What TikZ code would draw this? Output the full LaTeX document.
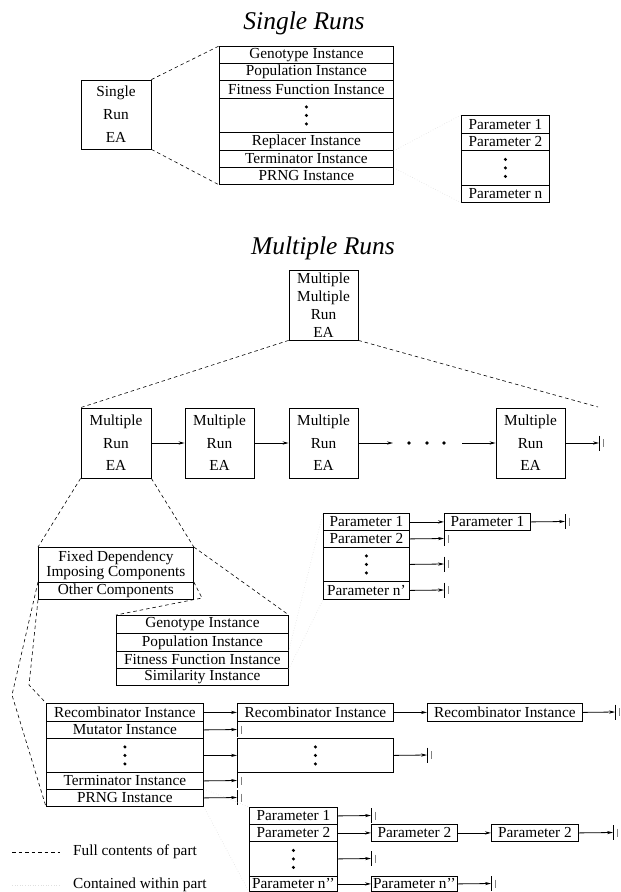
\documentclass[tikz,border=0pt]{standalone}
\usepackage{fontspec}
\setmainfont{Liberation Serif}
\usetikzlibrary{arrows.meta}
\newcommand{\tbar}[1]{%
  \draw[line width=0.9pt] (#1) ++(0,-7.5) -- ++(0,15);
  \draw[gray, line width=0.5pt] (#1) ++(4,-4) -- ++(0,8);}
\newcommand{\vdts}[1]{%
  \fill (#1.center) circle[radius=1.7pt];
  \fill ([yshift=8.5pt]#1.center) circle[radius=1.7pt];
  \fill ([yshift=-8.5pt]#1.center) circle[radius=1.7pt];}
\begin{document}
\begin{tikzpicture}[x=1pt,y=-1pt,
  every node/.style={font=\fontsize{15.3}{18}\selectfont, inner sep=0pt},
  row/.style 2 args={draw, line width=0.8pt, minimum width=#1, minimum height=#2, anchor=north west},
  box/.style={draw, line width=0.8pt, align=center},
  full/.style={dash pattern=on 3.5pt off 3pt, line width=0.6pt},
  within/.style={dotted, gray!25, line width=0.6pt},
  arr/.style={-{Stealth[length=6pt,width=3.2pt]}, line width=0.8pt},
  titl/.style={font=\fontsize{25.5}{30}\selectfont\itshape}]
\useasboundingbox (0,0) rectangle (621,892);

% ---------------- Single runs ----------------
\node[titl] (t1) at (304,23) {Single Runs};
\node[box, minimum width=70, minimum height=69, font=\fontsize{15.3}{23}\selectfont] (sr) at (116,114.5) {Single\\Run\\EA};

\node[row={174}{17}] (gen) at (219,46) {Genotype Instance};
\node[row={174}{17}] (pop) at (219,63) {Population Instance};
\node[row={174}{18}] (fit) at (219,80) {Fitness Function Instance};
\node[row={174}{34}] (sd) at (219,98) {};
\node[row={174}{18}] (rep) at (219,132) {Replacer Instance};
\node[row={174}{17}] (ter) at (219,150) {Terminator Instance};
\node[row={174}{17}] (prng) at (219,167) {PRNG Instance};
\vdts{sd}

\node[row={88}{18}] (ps1) at (461,115) {Parameter 1};
\node[row={88}{17}] (ps2) at (461,133) {Parameter 2};
\node[row={88}{35}] (psd) at (461,150) {};
\node[row={88}{17}] (psn) at (461,185) {Parameter n};
\vdts{psd}

\draw[full] (sr.north east) -- (gen.north west);
\draw[full] (sr.south east) -- (prng.south west);
\draw[within] (rep.south east) -- (ps1.north west);
\draw[within] (ter.south east) -- (psn.south west);

% ---------------- Multiple runs ----------------
\node[titl] (t2) at (323,248) {Multiple Runs};
\node[box, minimum width=69, minimum height=70, font=\fontsize{15.3}{18}\selectfont] (mm) at (323.5,305) {Multiple\\Multiple\\Run\\EA};

\node[box, minimum width=70, minimum height=70, font=\fontsize{15.3}{22.5}\selectfont] (b1) at (116,443) {Multiple\\Run\\EA};
\node[box, minimum width=69, minimum height=70, font=\fontsize{15.3}{22.5}\selectfont] (b2) at (219.5,443) {Multiple\\Run\\EA};
\node[box, minimum width=69, minimum height=70, font=\fontsize{15.3}{22.5}\selectfont] (b3) at (323.5,443) {Multiple\\Run\\EA};
\node[box, minimum width=69, minimum height=70, font=\fontsize{15.3}{22.5}\selectfont] (b4) at (530.5,443) {Multiple\\Run\\EA};

\coordinate (c3) at (393,443);
\coordinate (c4) at (462,443);
\coordinate (e4) at (599,443);
\coordinate (mr) at (598,407);
\draw[arr] (b1.east) -- (b2.west);
\draw[arr] (b2.east) -- (b3.west);
\draw[arr] (b3.east) -- (c3);
\fill (409,443) circle[radius=1.8pt];
\fill (427,443) circle[radius=1.8pt];
\fill (444,443) circle[radius=1.8pt];
\draw[arr] (c4) -- (b4.west);
\draw[arr] (b4.east) -- (e4);
\tbar{e4}

\draw[full] (mm.south west) -- (b1.north west);
\draw[full] (mm.south east) -- (mr);

% Fixed / other
\node[row={155}{35}, align=center, font=\fontsize{15.3}{15}\selectfont] (fix) at (38,547) {Fixed Dependency\\Imposing Components};
\node[row={155}{17}] (oth) at (38,582) {Other Components};
\draw[full] (b1.south west) -- (fix.north west);
\draw[full] (b1.south east) -- (fix.north east);

% Fixed-dependency contents
\node[row={172}{18}] (g2) at (116,615) {Genotype Instance};
\node[row={172}{18}] (p2) at (116,633) {Population Instance};
\node[row={172}{17}] (f2) at (116,651) {Fitness Function Instance};
\node[row={172}{17}] (s2) at (116,668) {Similarity Instance};
\coordinate (ob) at (202,598);
\draw[full] (fix.north east) -- (g2.north east);
\draw[full] (oth.north east) -- (ob) -- (g2.north west);

% Parameters n'
\node[row={86}{17}] (mp1) at (323,513) {Parameter 1};
\node[row={86}{17}] (mp2) at (323,530) {Parameter 2};
\node[row={86}{34}] (mpd) at (323,547) {};
\node[row={86}{18}] (mpn) at (323,581) {Parameter n'};
\vdts{mpd}
\draw[within] (f2.north east) -- (mp1.north west);
\draw[within] (f2.south east) -- (mpn.south west);

\node[row={86}{17}] (mp1b) at (444,513) {Parameter 1};
\coordinate (emp1) at (565,521.5);
\coordinate (emp2) at (444,538.5);
\coordinate (empd) at (444,564);
\coordinate (empn) at (444,590);
\draw[arr] (mp1.east) -- (mp1b.west);
\draw[arr] (mp1b.east) -- (emp1); \tbar{emp1}
\draw[arr] (mp2.east) -- (emp2); \tbar{emp2}
\draw[arr] (mpd.east) -- (empd); \tbar{empd}
\draw[arr] (mpn.east) -- (empn); \tbar{empn}

% Other components contents
\node[row={157}{18}] (rc) at (46,703) {Recombinator Instance};
\node[row={157}{17}] (mu) at (46,721) {Mutator Instance};
\node[row={157}{34}] (dt) at (46,738) {};
\node[row={157}{17}] (te) at (46,772) {Terminator Instance};
\node[row={157}{17}] (pr) at (46,789) {PRNG Instance};
\vdts{dt}
\coordinate (oa) at (12,695);
\coordinate (obb) at (29,685);
\draw[full] (oth.north west) -- (oa) -- (pr.south west);
\draw[full] (oth.south west) -- (obb) -- (rc.north west);

\node[row={156}{18}] (rc2) at (237,703) {Recombinator Instance};
\node[row={155}{18}] (rc3) at (427,703) {Recombinator Instance};
\node[row={156}{34}] (dt2) at (237,738) {};
\vdts{dt2}
\coordinate (erc) at (615,712);
\coordinate (emu) at (237,729.5);
\coordinate (edt) at (427,755);
\coordinate (ete) at (237,780.5);
\coordinate (epr) at (237,797.5);
\draw[arr] (rc.east) -- (rc2.west);
\draw[arr] (rc2.east) -- (rc3.west);
\draw[arr] (rc3.east) -- (erc); \tbar{erc}
\draw[arr] (mu.east) -- (emu); \tbar{emu}
\draw[arr] (dt.east) -- (dt2.west);
\draw[arr] (dt2.east) -- (edt); \tbar{edt}
\draw[arr] (te.east) -- (ete); \tbar{ete}
\draw[arr] (pr.east) -- (epr); \tbar{epr}

% Parameters n''
\node[row={88}{17}] (bp1) at (249,807) {Parameter 1};
\node[row={88}{17}] (bp2) at (249,824) {Parameter 2};
\node[row={88}{35}] (bpd) at (249,841) {};
\node[row={88}{15}] (bpn) at (249,876) {Parameter n'{}'};
\vdts{bpd}
\draw[within] (pr.north east) -- (bp1.north west);
\draw[within] (pr.south east) -- (bpn.south west);

\node[row={86}{17}] (bp2b) at (371,824) {Parameter 2};
\node[row={87}{17}] (bp2c) at (491,824) {Parameter 2};
\node[row={86}{15}] (bpnb) at (371,876) {Parameter n'{}'};
\coordinate (ebp1) at (371,815.5);
\coordinate (ebp2) at (613,832.5);
\coordinate (ebpd) at (371,858.5);
\coordinate (ebpn) at (491,883.5);
\draw[arr] (bp1.east) -- (ebp1); \tbar{ebp1}
\draw[arr] (bp2.east) -- (bp2b.west);
\draw[arr] (bp2b.east) -- (bp2c.west);
\draw[arr] (bp2c.east) -- (ebp2); \tbar{ebp2}
\draw[arr] (bpd.east) -- (ebpd); \tbar{ebpd}
\draw[arr] (bpn.east) -- (bpnb.west);
\draw[arr] (bpnb.east) -- (ebpn); \tbar{ebpn}

% Legend
\coordinate (l1a) at (12,852); \coordinate (l1b) at (60,852);
\coordinate (l2a) at (12,885); \coordinate (l2b) at (60,885);
\draw[full] (l1a) -- (l1b);
\draw[within] (l2a) -- (l2b);
\node[anchor=west] (leg1) at (73,852) {Full contents of part};
\node[anchor=west] (leg2) at (73,885) {Contained within part};
\end{tikzpicture}
\end{document}
